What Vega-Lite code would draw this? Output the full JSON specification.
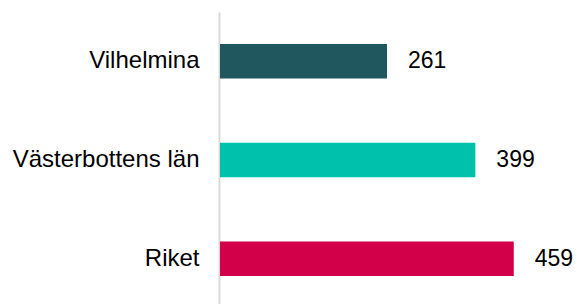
{
  "$schema": "https://vega.github.io/schema/vega-lite/v6.json",
  "autosize": "none",
  "padding": {"left": 220, "top": 12, "right": 39, "bottom": 0},
  "width": 320,
  "height": 296,
  "background": "white",
  "config": {"view": {"stroke": null}, "font": "Liberation Sans"},
  "data": {
    "values": [
      {"region": "Vilhelmina", "value": 261},
      {"region": "Västerbottens län", "value": 399},
      {"region": "Riket", "value": 459}
    ]
  },
  "encoding": {
    "y": {
      "field": "region",
      "type": "nominal",
      "sort": ["Vilhelmina", "Västerbottens län", "Riket"],
      "scale": {"paddingInner": 0.65, "paddingOuter": 0.325},
      "axis": {
        "title": null,
        "ticks": false,
        "offset": 1,
        "labelPadding": 20,
        "labelFontSize": 24,
        "labelLimit": 400,
        "labelColor": "#000000",
        "labelFont": "Liberation Sans",
        "domainColor": "#d9d9d9",
        "domainWidth": 2,
        "grid": false
      }
    },
    "x": {
      "field": "value",
      "type": "quantitative",
      "scale": {"domain": [0, 500]},
      "axis": null
    }
  },
  "layer": [
    {
      "mark": {"type": "bar"},
      "encoding": {
        "color": {
          "field": "region",
          "type": "nominal",
          "scale": {
            "domain": ["Vilhelmina", "Västerbottens län", "Riket"],
            "range": ["#20575f", "#00c1ab", "#d10048"]
          },
          "legend": null
        }
      }
    },
    {
      "mark": {"type": "text", "align": "left", "baseline": "middle", "dx": 21, "fontSize": 23, "font": "Liberation Sans", "color": "#000000"},
      "encoding": {"text": {"field": "value", "type": "quantitative"}}
    }
  ]
}
